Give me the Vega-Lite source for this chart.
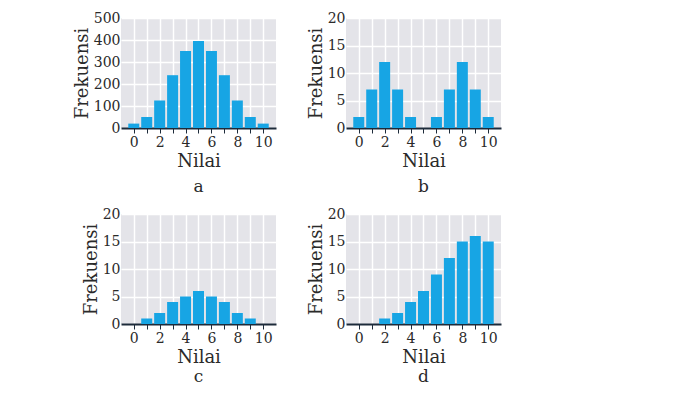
{
  "$schema": "https://vega.github.io/schema/vega-lite/v6.json",
  "padding": {"left": 73, "top": 11, "right": 5, "bottom": 5},
  "background": "white",
  "data": {"values": [
    {"panel": "a", "nilai": 0, "frekuensi": 20},
    {"panel": "a", "nilai": 1, "frekuensi": 50},
    {"panel": "a", "nilai": 2, "frekuensi": 125},
    {"panel": "a", "nilai": 3, "frekuensi": 240},
    {"panel": "a", "nilai": 4, "frekuensi": 350},
    {"panel": "a", "nilai": 5, "frekuensi": 395},
    {"panel": "a", "nilai": 6, "frekuensi": 350},
    {"panel": "a", "nilai": 7, "frekuensi": 240},
    {"panel": "a", "nilai": 8, "frekuensi": 125},
    {"panel": "a", "nilai": 9, "frekuensi": 50},
    {"panel": "a", "nilai": 10, "frekuensi": 20},
    {"panel": "b", "nilai": 0, "frekuensi": 2},
    {"panel": "b", "nilai": 1, "frekuensi": 7},
    {"panel": "b", "nilai": 2, "frekuensi": 12},
    {"panel": "b", "nilai": 3, "frekuensi": 7},
    {"panel": "b", "nilai": 4, "frekuensi": 2},
    {"panel": "b", "nilai": 5, "frekuensi": 0},
    {"panel": "b", "nilai": 6, "frekuensi": 2},
    {"panel": "b", "nilai": 7, "frekuensi": 7},
    {"panel": "b", "nilai": 8, "frekuensi": 12},
    {"panel": "b", "nilai": 9, "frekuensi": 7},
    {"panel": "b", "nilai": 10, "frekuensi": 2},
    {"panel": "c", "nilai": 0, "frekuensi": 0},
    {"panel": "c", "nilai": 1, "frekuensi": 1},
    {"panel": "c", "nilai": 2, "frekuensi": 2},
    {"panel": "c", "nilai": 3, "frekuensi": 4},
    {"panel": "c", "nilai": 4, "frekuensi": 5},
    {"panel": "c", "nilai": 5, "frekuensi": 6},
    {"panel": "c", "nilai": 6, "frekuensi": 5},
    {"panel": "c", "nilai": 7, "frekuensi": 4},
    {"panel": "c", "nilai": 8, "frekuensi": 2},
    {"panel": "c", "nilai": 9, "frekuensi": 1},
    {"panel": "c", "nilai": 10, "frekuensi": 0},
    {"panel": "d", "nilai": 0, "frekuensi": 0},
    {"panel": "d", "nilai": 1, "frekuensi": 0},
    {"panel": "d", "nilai": 2, "frekuensi": 1},
    {"panel": "d", "nilai": 3, "frekuensi": 2},
    {"panel": "d", "nilai": 4, "frekuensi": 4},
    {"panel": "d", "nilai": 5, "frekuensi": 6},
    {"panel": "d", "nilai": 6, "frekuensi": 9},
    {"panel": "d", "nilai": 7, "frekuensi": 12},
    {"panel": "d", "nilai": 8, "frekuensi": 15},
    {"panel": "d", "nilai": 9, "frekuensi": 16},
    {"panel": "d", "nilai": 10, "frekuensi": 15}
  ]},
  "columns": 2,
  "spacing": {"column": 31, "row": 12},
  "concat": [
    {
      "width": 155, "height": 110,
      "title": {"text": "a", "orient": "bottom", "offset": 9},
      "transform": [{"filter": "datum.panel == 'a'"}],
      "mark": {"type": "bar", "width": 11, "color": "#17a5e4"},
      "encoding": {
        "x": {"field": "nilai", "type": "quantitative", "scale": {"domain": [-0.6, 10.6], "nice": false, "zero": false},
              "axis": {"values": [0,1,2,3,4,5,6,7,8,9,10], "labelExpr": "datum.value % 2 == 0 ? datum.label : ''", "title": "Nilai"}},
        "y": {"field": "frekuensi", "type": "quantitative", "scale": {"domain": [0, 500]},
              "axis": {"values": [0,100,200,300,400,500], "title": "Frekuensi"}}
      }
    },
    {
      "width": 155, "height": 110,
      "title": {"text": "b", "orient": "bottom", "offset": 9},
      "transform": [{"filter": "datum.panel == 'b'"}],
      "mark": {"type": "bar", "width": 11, "color": "#17a5e4"},
      "encoding": {
        "x": {"field": "nilai", "type": "quantitative", "scale": {"domain": [-0.6, 10.6], "nice": false, "zero": false},
              "axis": {"values": [0,1,2,3,4,5,6,7,8,9,10], "labelExpr": "datum.value % 2 == 0 ? datum.label : ''", "title": "Nilai"}},
        "y": {"field": "frekuensi", "type": "quantitative", "scale": {"domain": [0, 20]},
              "axis": {"values": [0,5,10,15,20], "title": "Frekuensi"}}
      }
    },
    {
      "width": 155, "height": 110,
      "title": {"text": "c", "orient": "bottom", "offset": 3},
      "transform": [{"filter": "datum.panel == 'c'"}],
      "mark": {"type": "bar", "width": 11, "color": "#17a5e4"},
      "encoding": {
        "x": {"field": "nilai", "type": "quantitative", "scale": {"domain": [-0.6, 10.6], "nice": false, "zero": false},
              "axis": {"values": [0,1,2,3,4,5,6,7,8,9,10], "labelExpr": "datum.value % 2 == 0 ? datum.label : ''", "title": "Nilai"}},
        "y": {"field": "frekuensi", "type": "quantitative", "scale": {"domain": [0, 20]},
              "axis": {"values": [0,5,10,15,20], "title": "Frekuensi"}}
      }
    },
    {
      "width": 155, "height": 110,
      "title": {"text": "d", "orient": "bottom", "offset": 3},
      "transform": [{"filter": "datum.panel == 'd'"}],
      "mark": {"type": "bar", "width": 11, "color": "#17a5e4"},
      "encoding": {
        "x": {"field": "nilai", "type": "quantitative", "scale": {"domain": [-0.6, 10.6], "nice": false, "zero": false},
              "axis": {"values": [0,1,2,3,4,5,6,7,8,9,10], "labelExpr": "datum.value % 2 == 0 ? datum.label : ''", "title": "Nilai"}},
        "y": {"field": "frekuensi", "type": "quantitative", "scale": {"domain": [0, 20]},
              "axis": {"values": [0,5,10,15,20], "title": "Frekuensi"}}
      }
    }
  ],
  "config": {
    "font": "DejaVu Serif",
    "view": {"fill": "#e4e4e9", "stroke": null},
    "axis": {
      "gridColor": "white", "gridWidth": 1.5, "gridOpacity": 1,
      "labelFont": "DejaVu Serif", "labelFontSize": 14, "labelColor": "#2a2a2a",
      "titleFont": "DejaVu Serif", "titleFontSize": 18, "titleFontWeight": "normal", "titleColor": "#2a2a2a"
    },
    "axisY": {"domain": false, "ticks": false, "labelPadding": 1, "titlePadding": 2},
    "axisX": {"domainColor": "#1d2b3a", "domainWidth": 2, "tickColor": "#1d2b3a", "tickSize": 5, "tickWidth": 1, "labelPadding": 2, "titlePadding": 3, "zindex": 1, "labelOverlap": false},
    "title": {"font": "DejaVu Serif", "fontSize": 17, "fontWeight": "normal", "color": "#2a2a2a"}
  }
}
